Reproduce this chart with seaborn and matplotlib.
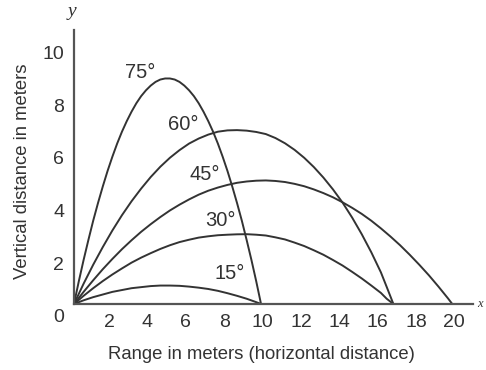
import numpy as np
import pandas as pd
import seaborn as sns
import matplotlib.pyplot as plt
from matplotlib.transforms import ScaledTranslation

# trajectories: horizontal range (m) and height (m)
angles = ["15°", "30°", "45°", "60°", "75°"]

x_15 = [0, 0.5, 1, 1.5, 2, 2.5, 3, 3.5, 4, 4.5, 5, 5.5, 6, 6.5, 7, 7.5, 8, 8.5, 9, 9.5, 9.75]
y_15 = [0, 0.14, 0.26, 0.36, 0.46, 0.53, 0.60, 0.64, 0.68, 0.70, 0.70, 0.69, 0.66, 0.62, 0.57,
        0.50, 0.41, 0.31, 0.20, 0.07, 0]

x_30 = [0, 0.5, 1, 1.5, 2, 2.5, 3, 3.5, 4, 4.5, 5, 5.5, 6, 6.5, 7, 7.5, 8, 8.5, 9, 9.5, 10,
        10.5, 11, 11.5, 12, 12.5, 13, 13.5, 14, 14.5, 15, 15.5, 16, 16.3, 16.65]
y_30 = [0, 0.31, 0.60, 0.87, 1.12, 1.35, 1.57, 1.76, 1.93, 2.09, 2.23, 2.35, 2.44, 2.52, 2.57,
        2.61, 2.63, 2.645, 2.65, 2.63, 2.60, 2.53, 2.45, 2.33, 2.20, 2.04, 1.87, 1.67, 1.46,
        1.22, 0.97, 0.70, 0.42, 0.20, 0]

x_45 = [0, 0.5, 1, 1.5, 2, 2.5, 3, 3.5, 4, 4.5, 5, 5.5, 6, 6.5, 7, 7.5, 8, 8.5, 9, 9.5, 10,
        10.5, 11, 11.5, 12, 12.5, 13, 13.5, 14, 14.5, 15, 15.5, 16, 16.5, 17, 17.5, 18, 18.5,
        19, 19.5, 19.72]
y_45 = [0, 0.46, 0.90, 1.32, 1.71, 2.08, 2.42, 2.74, 3.03, 3.30, 3.55, 3.77, 3.97, 4.15, 4.30,
        4.42, 4.52, 4.60, 4.65, 4.68, 4.69, 4.67, 4.63, 4.56, 4.47, 4.35, 4.21, 4.05, 3.86,
        3.65, 3.42, 3.16, 2.87, 2.56, 2.23, 1.87, 1.49, 1.09, 0.66, 0.21, 0]

x_60 = [0, 0.5, 1, 1.5, 2, 2.5, 3, 3.5, 4, 4.5, 5, 5.5, 6, 6.5, 7, 7.5, 8, 8.5, 9, 9.5, 10,
        10.5, 11, 11.5, 12, 12.5, 13, 13.5, 14, 14.5, 15, 15.5, 16, 16.3, 16.65]
y_60 = [0, 0.77, 1.49, 2.16, 2.79, 3.37, 3.90, 4.38, 4.82, 5.21, 5.55, 5.84, 6.09, 6.28, 6.43,
        6.54, 6.59, 6.60, 6.58, 6.53, 6.45, 6.30, 6.10, 5.85, 5.55, 5.20, 4.80, 4.35, 3.85,
        3.28, 2.65, 1.96, 1.20, 0.65, 0]

x_75 = [0, 0.25, 0.5, 0.75, 1, 1.25, 1.5, 1.75, 2, 2.25, 2.5, 2.75, 3, 3.25, 3.5, 3.75, 4,
        4.25, 4.5, 4.75, 5, 5.25, 5.5, 5.75, 6, 6.25, 6.5, 6.75, 7, 7.25, 7.5, 7.75, 8, 8.25,
        8.5, 8.75, 9, 9.25, 9.5, 9.75]
y_75 = [0, 0.86, 1.67, 2.43, 3.16, 3.83, 4.46, 5.05, 5.59, 6.09, 6.54, 6.94, 7.30, 7.62, 7.89,
        8.11, 8.29, 8.43, 8.52, 8.56, 8.56, 8.52, 8.43, 8.29, 8.11, 7.89, 7.62, 7.30, 6.94,
        6.54, 6.09, 5.59, 5.05, 4.46, 3.83, 3.16, 2.43, 1.67, 0.86, 0]

# where the angle names sit
label_x = [8.13, 7.61, 6.83, 5.70, 3.44]
label_y = [1.14, 3.16, 4.91, 6.82, 8.79]

x_ticks = [2, 4, 6, 8, 10, 12, 14, 16, 18, 20]
y_ticks = [0, 2, 4, 6, 8, 10]

xs = [x_15, x_30, x_45, x_60, x_75]
ys = [y_15, y_30, y_45, y_60, y_75]
df = pd.concat([pd.DataFrame({"x": a, "y": b, "angle": n}) for n, a, b in zip(angles, xs, ys)])

sns.set_style("white")
plt.rcParams['font.family'] = ['Liberation Sans', 'DejaVu Sans']

ink = "#333333"
fig = plt.figure(figsize=(4.86, 3.70), dpi=100)
ax = fig.add_axes([74 / 486, 66 / 370, 399 / 486, 274 / 370])

sns.lineplot(data=df, x="x", y="y", hue="angle", palette=[ink] * 5,
             estimator=None, sort=False, linewidth=1.4, legend=False, ax=ax)

for name, lx, ly in zip(angles, label_x, label_y):
    ax.text(lx, ly, name, ha="center", va="center", fontsize=14.5, color=ink)

ax.set_xlim(0, 20.8)
ax.set_ylim(0, 10.4)
ax.set_xticks(x_ticks)
ax.set_yticks(y_ticks)
ax.tick_params(length=0, labelsize=14, labelcolor=ink, pad=7)

# the printed numbers sit a little off their grid in the original
for lab in ax.get_yticklabels():
    lab.set_transform(lab.get_transform() + ScaledTranslation(0, -0.12, fig.dpi_scale_trans))
for lab in ax.get_xticklabels():
    lab.set_transform(lab.get_transform() + ScaledTranslation(-0.033, 0, fig.dpi_scale_trans))

for side in ["top", "right"]:
    ax.spines[side].set_visible(False)
for side in ["left", "bottom"]:
    ax.spines[side].set_color("#555555")
    ax.spines[side].set_linewidth(1.6)

ax.set_xlabel("Range in meters (horizontal distance)", fontsize=13.3, color=ink, va="center")
ax.xaxis.set_label_coords(0.469, -0.186)
ax.set_ylabel("Vertical distance in meters", fontsize=13.3, color=ink, va="center")
ax.yaxis.set_label_coords(-0.130, 0.485)

ax.text(-0.005, 1.066, "y", transform=ax.transAxes, ha="center", va="center",
        fontsize=14, style="italic", family="Liberation Serif", color=ink)
ax.text(1.01, 0.0, "x", transform=ax.transAxes, ha="left", va="center",
        fontsize=9, style="italic", family="Liberation Serif", color=ink)

plt.savefig("out.png", dpi=100)
